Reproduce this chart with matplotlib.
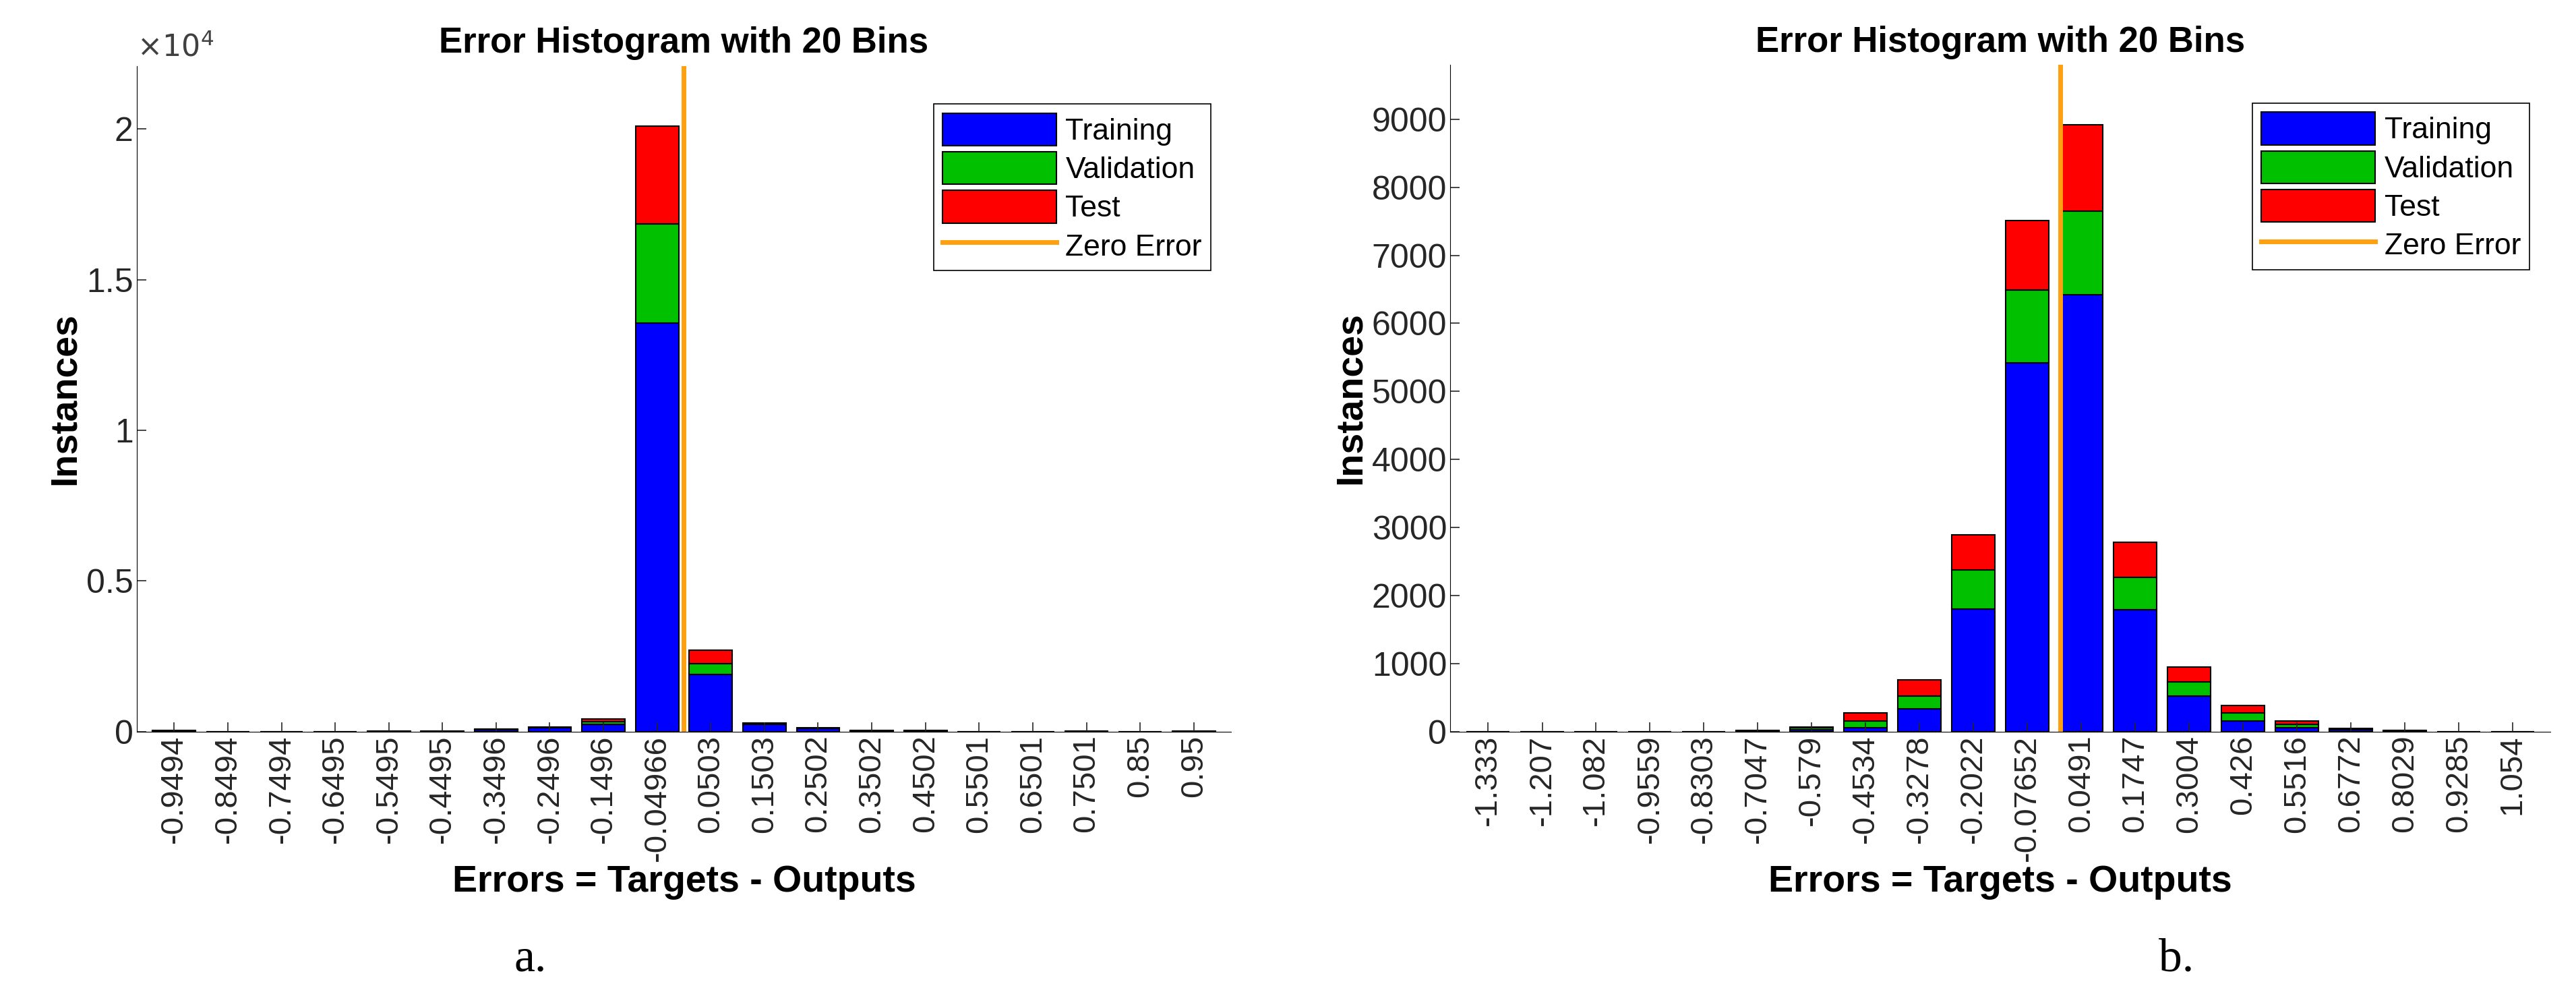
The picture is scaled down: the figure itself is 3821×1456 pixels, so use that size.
"""Two MATLAB-style error histograms (stacked Training / Validation / Test)."""
import matplotlib
matplotlib.use("Agg")
import matplotlib.pyplot as plt
import numpy as np

plt.rcParams["font.family"] = ["Liberation Sans", "DejaVu Sans"]

_C = {"train": "#0000ff", "val": "#00c000", "test": "#ff0000", "zero": "#ffa010"}

# --- panel a ------------------------------------------------------------
a_bins = [-0.9494, -0.8494, -0.7494, -0.6495, -0.5495, -0.4495, -0.3496, -0.2496,
          -0.1496, -0.04966, 0.0503, 0.1503, 0.2502, 0.3502, 0.4502, 0.5501,
          0.6501, 0.7501, 0.85, 0.95]
a_labels = ["-0.9494", "-0.8494", "-0.7494", "-0.6495", "-0.5495", "-0.4495", "-0.3496",
            "-0.2496", "-0.1496", "-0.04966", "0.0503", "0.1503", "0.2502", "0.3502",
            "0.4502", "0.5501", "0.6501", "0.7501", "0.85", "0.95"]
a_train = [25, 0, 0, 0, 15, 15, 70, 130, 250, 13550, 1900, 250, 100, 25, 25, 0, 0, 15, 0, 15]
a_val = [3, 0, 0, 0, 3, 3, 8, 15, 80, 3300, 350, 20, 10, 3, 3, 0, 0, 3, 0, 3]
a_test = [3, 0, 0, 0, 3, 3, 8, 15, 100, 3250, 450, 20, 10, 3, 3, 0, 0, 3, 0, 3]

# --- panel b ------------------------------------------------------------
b_bins = [-1.333, -1.207, -1.082, -0.9559, -0.8303, -0.7047, -0.579, -0.4534, -0.3278,
          -0.2022, -0.07652, 0.0491, 0.1747, 0.3004, 0.426, 0.5516, 0.6772, 0.8029,
          0.9285, 1.054]
b_labels = ["-1.333", "-1.207", "-1.082", "-0.9559", "-0.8303", "-0.7047", "-0.579",
            "-0.4534", "-0.3278", "-0.2022", "-0.07652", "0.0491", "0.1747", "0.3004",
            "0.426", "0.5516", "0.6772", "0.8029", "0.9285", "1.054"]
b_train = [0, 0, 0, 0, 0, 12, 30, 60, 330, 1800, 5420, 6420, 1790, 520, 160, 60, 30, 15, 0, 0]
b_val = [0, 0, 0, 0, 0, 4, 30, 100, 190, 580, 1070, 1230, 480, 210, 110, 50, 8, 3, 0, 0]
b_test = [0, 0, 0, 0, 0, 4, 10, 110, 240, 510, 1020, 1270, 510, 220, 110, 50, 7, 2, 0, 0]


def panel(ax, bins, labels, tr, va, te, ylim, yticks, yticklabels, caption, cap_x):
    x = np.array(bins)
    w = (x[1] - x[0]) * 0.8
    tr, va, te = np.array(tr), np.array(va), np.array(te)
    kw = dict(width=w, edgecolor="black", linewidth=1.5)
    ax.bar(x, tr, color=_C["train"], label="Training", **kw)
    ax.bar(x, va, bottom=tr, color=_C["val"], label="Validation", **kw)
    ax.bar(x, te, bottom=tr + va, color=_C["test"], label="Test", **kw)
    ax.axvline(0, color=_C["zero"], linewidth=5, label="Zero Error")
    step = x[1] - x[0]
    ax.set_xlim(x[0] - 0.7 * step, x[-1] + 0.7 * step)
    ax.set_ylim(*ylim)
    ax.set_xticks(x)
    ax.set_xticklabels(labels, rotation=90, fontsize=34)
    ax.set_yticks(yticks)
    ax.set_yticklabels(yticklabels, fontsize=36)
    ax.tick_params(direction="in", length=10, width=1.2, colors="#262626")
    ax.spines[["top", "right"]].set_visible(False)
    ax.set_title("Error Histogram with 20 Bins", fontsize=38, fontweight="bold", pad=14)
    ax.set_xlabel("Errors = Targets - Outputs", fontsize=40, fontweight="bold", labelpad=4)
    ax.set_ylabel("Instances", fontsize=40, fontweight="bold")
    h, l = ax.get_legend_handles_labels()
    order = [1, 2, 3, 0]
    leg = ax.legend([h[i] for i in order], [l[i] for i in order],
                    loc="upper right", bbox_to_anchor=(0.995, 0.965), fontsize=32,
                    fancybox=False, edgecolor="black", framealpha=1, borderpad=0.3,
                    handlelength=3.8, handleheight=1.3, labelspacing=0.2,
                    handletextpad=0.3)
    leg.get_frame().set_linewidth(1.2)
    ax.text(cap_x, -0.31, caption, transform=ax.transAxes, ha="center", va="top",
            fontsize=50, family=["Liberation Serif"])


fig = plt.figure(figsize=(38.21, 14.56), dpi=100)
ax1 = fig.add_axes([0.053, 0.255, 0.425, 0.678])
ax2 = fig.add_axes([0.563, 0.255, 0.427, 0.679])

panel(ax1, a_bins, a_labels, a_train, a_val, a_test, (0, 22100),
      [0, 5000, 10000, 15000, 20000], ["0", "0.5", "1", "1.5", "2"], "a.", 0.36)
ax1.text(0.0, 1.005, r"$\times10^{4}$", transform=ax1.transAxes, fontsize=32,
         color="#404040", va="bottom")
panel(ax2, b_bins, b_labels, b_train, b_val, b_test, (0, 9800),
      list(range(0, 10000, 1000)), [str(v) for v in range(0, 10000, 1000)], "b.", 0.66)

fig.savefig("out.png", dpi=100)
